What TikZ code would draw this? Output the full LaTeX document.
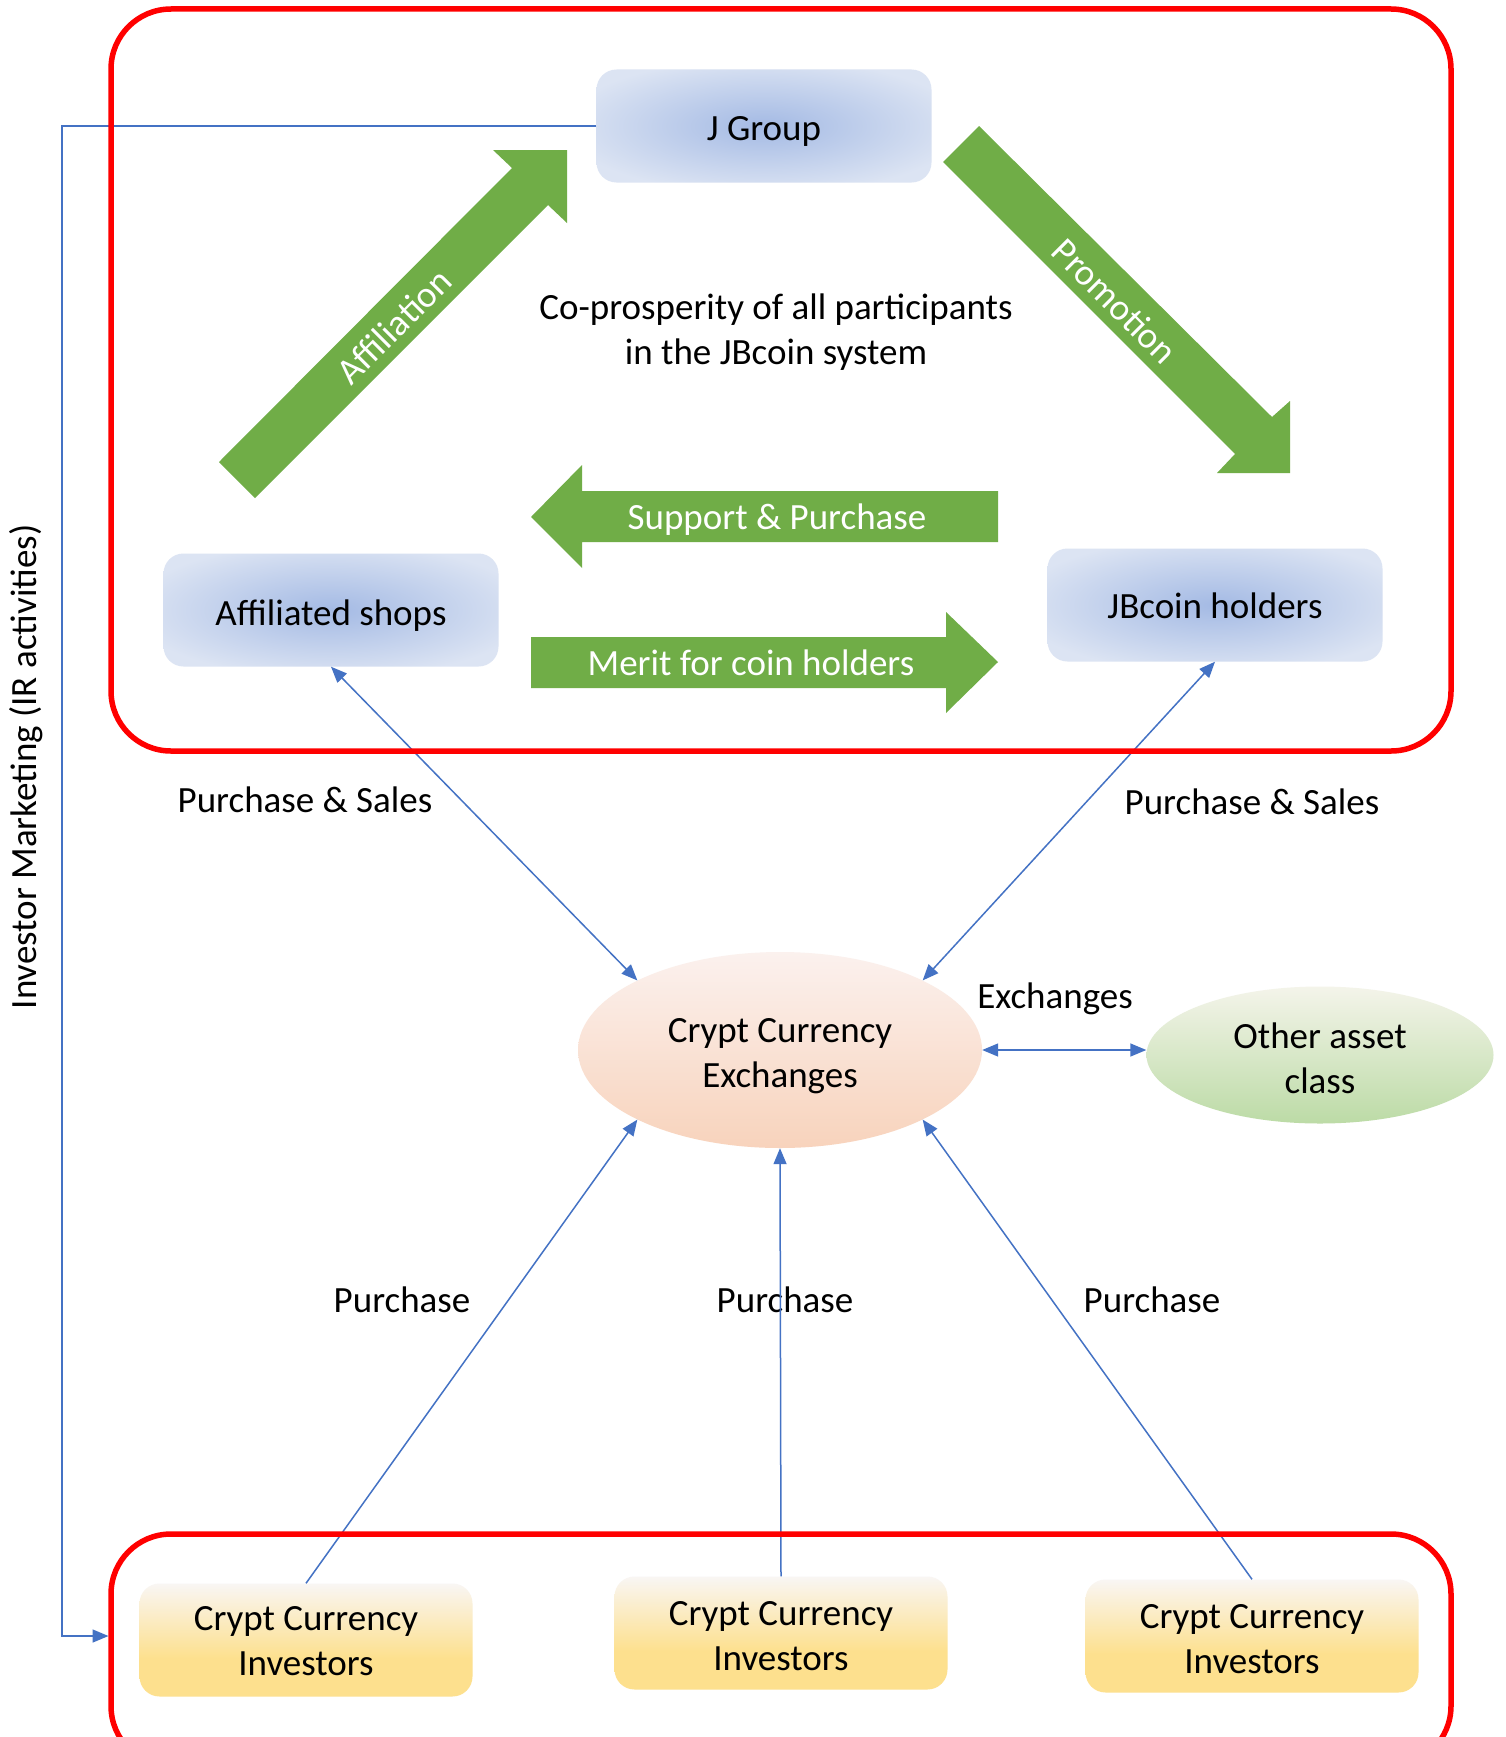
\documentclass[tikz,border=0pt]{standalone}
\usepackage{fontspec}
\setmainfont{Carlito}
\usetikzlibrary{shapes.geometric,arrows.meta,calc}
\definecolor{frc}{HTML}{FF0000}
\definecolor{connc}{HTML}{4472C4}
\definecolor{grn}{HTML}{70AD47}
\definecolor{bxc}{HTML}{A4BAE4}
\definecolor{bxe}{HTML}{DCE4F3}
\definecolor{ylt}{HTML}{F9F6F4}
\definecolor{ylb}{HTML}{FDE08E}
\definecolor{pkt}{HTML}{FBF1EE}
\definecolor{pkb}{HTML}{F8D3BC}
\definecolor{gnt}{HTML}{F4F4EA}
\definecolor{gnb}{HTML}{BCDBA6}
\newcommand{\upstrut}[1]{\rule{0pt}{#1pt}}
\pgfdeclareradialshading{boxrad}{\pgfpoint{0bp}{0bp}}{color(0bp)=(bxc); color(30bp)=(bxe); color(50bp)=(bxe)}
\pgfdeclareverticalshading{invsh}{100bp}{color(0bp)=(ylb); color(25bp)=(ylb); color(42bp)=(ylb); color(75bp)=(ylt); color(100bp)=(ylt)}
\tikzset{
  txt/.style={font=\fontsize{37}{45}\selectfont, align=center, inner sep=0pt},
  wtxt/.style={txt, text=white},
  bluebox/.style={txt, rectangle, rounded corners=20pt, shading=boxrad, minimum width=335pt, minimum height=113pt},
  invbox/.style={txt, rectangle, rounded corners=20pt, shading=invsh, minimum width=333pt, minimum height=113pt},
  exell/.style={txt, ellipse, top color=pkt, bottom color=pkb, minimum width=404pt, minimum height=196pt},
  otell/.style={txt, ellipse, top color=gnt, bottom color=gnb, minimum width=347pt, minimum height=137pt},
  conn/.style={draw=connc, line width=1.5pt, >={Triangle[length=16pt,width=13pt]}},
  frm/.style={rectangle, draw=frc, line width=5.5pt, rounded corners=60pt, inner sep=0pt},
  garrow/.style={fill=grn, draw=none},
}
\begin{document}
\begin{tikzpicture}[x=1pt,y=-1pt]
\clip (0,0) rectangle (1505,1737);
\fill[white] (0,0) rectangle (1505,1737);

% green block arrows
\fill[garrow] (219,462) -- (512,168) -- (493,150) -- (567,150) -- (567,223) -- (548,205) -- (255,498) -- cycle;
\fill[garrow] (979,126) -- (1272,417) -- (1290,401) -- (1290,473) -- (1217,473) -- (1235,454) -- (943,162) -- cycle;
\fill[garrow] (998,491) -- (582,491) -- (582,465) -- (531,517) -- (582,568) -- (582,542) -- (998,542) -- cycle;
\fill[garrow] (531,637) -- (946,637) -- (946,612) -- (998,662) -- (946,713) -- (946,688) -- (531,688) -- cycle;
\node[wtxt, rotate=45] (affil) at (394,326) {Affiliation};
\node[wtxt, rotate=-45] (promo) at (1115,301) {Promotion};
\node[wtxt] (supp) at (777,520) {Support \& Purchase};
\node[wtxt] (merit) at (751,663) {Merit for coin holders};

% boxes
\node[bluebox] (jg) at (764,126) {\upstrut{35}J Group};
\node[bluebox] (shops) at (331,610) {\upstrut{37}Affiliated shops};
\node[bluebox] (holders) at (1215,605) {\upstrut{28}JBcoin holders};
\node[txt] (copros) at (776,332) {Co-prosperity of all participants\\in the JBcoin system};
\node[exell] (exch) at (780,1050) {\upstrut{36}Crypt Currency\\Exchanges};
\node[otell] (other) at (1320,1055) {\upstrut{32}Other asset\\class};
\node[invbox] (inv1) at (306,1640) {\upstrut{26}Crypt Currency\\Investors};
\node[invbox] (inv2) at (781,1633) {\upstrut{30}Crypt Currency\\Investors};
\node[invbox] (inv3) at (1252,1636) {\upstrut{30}Crypt Currency\\Investors};

% labels
\node[txt] (ps1) at (305,800) {Purchase \& Sales};
\node[txt] (ps2) at (1252,802) {Purchase \& Sales};
\node[txt] (exl) at (1055,999) {Exchanges};
\node[txt] (pu1) at (402,1300) {Purchase};
\node[txt] (pu2) at (785,1300) {Purchase};
\node[txt] (pu3) at (1152,1300) {Purchase};
\node[txt, rotate=90] (irm) at (26,767) {Investor Marketing (IR activities)};

% connectors
\draw[conn,<->] (shops.south) -- (exch.154);
\draw[conn,<->] (holders.south) -- (exch.26);
\draw[conn,<->] (exch.east) -- (exch.east -| other.west);
\draw[conn,->] (inv1.north) -- (exch.206);
\draw[conn,->] (inv2.north) -- (exch.south);
\draw[conn,->] (inv3.north) -- (exch.334);
\coordinate (irx) at (62,0);
\coordinate (irend) at (108.5,1636);
\draw[conn,->] (jg.west) -- (jg.west -| irx) |- (irend);

% frames
\node[frm, minimum width=1340pt, minimum height=742pt] (topframe) at (781,380) {};
\node[frm, minimum width=1340pt, minimum height=232pt] (botframe) at (781,1650) {};
\end{tikzpicture}
\end{document}
